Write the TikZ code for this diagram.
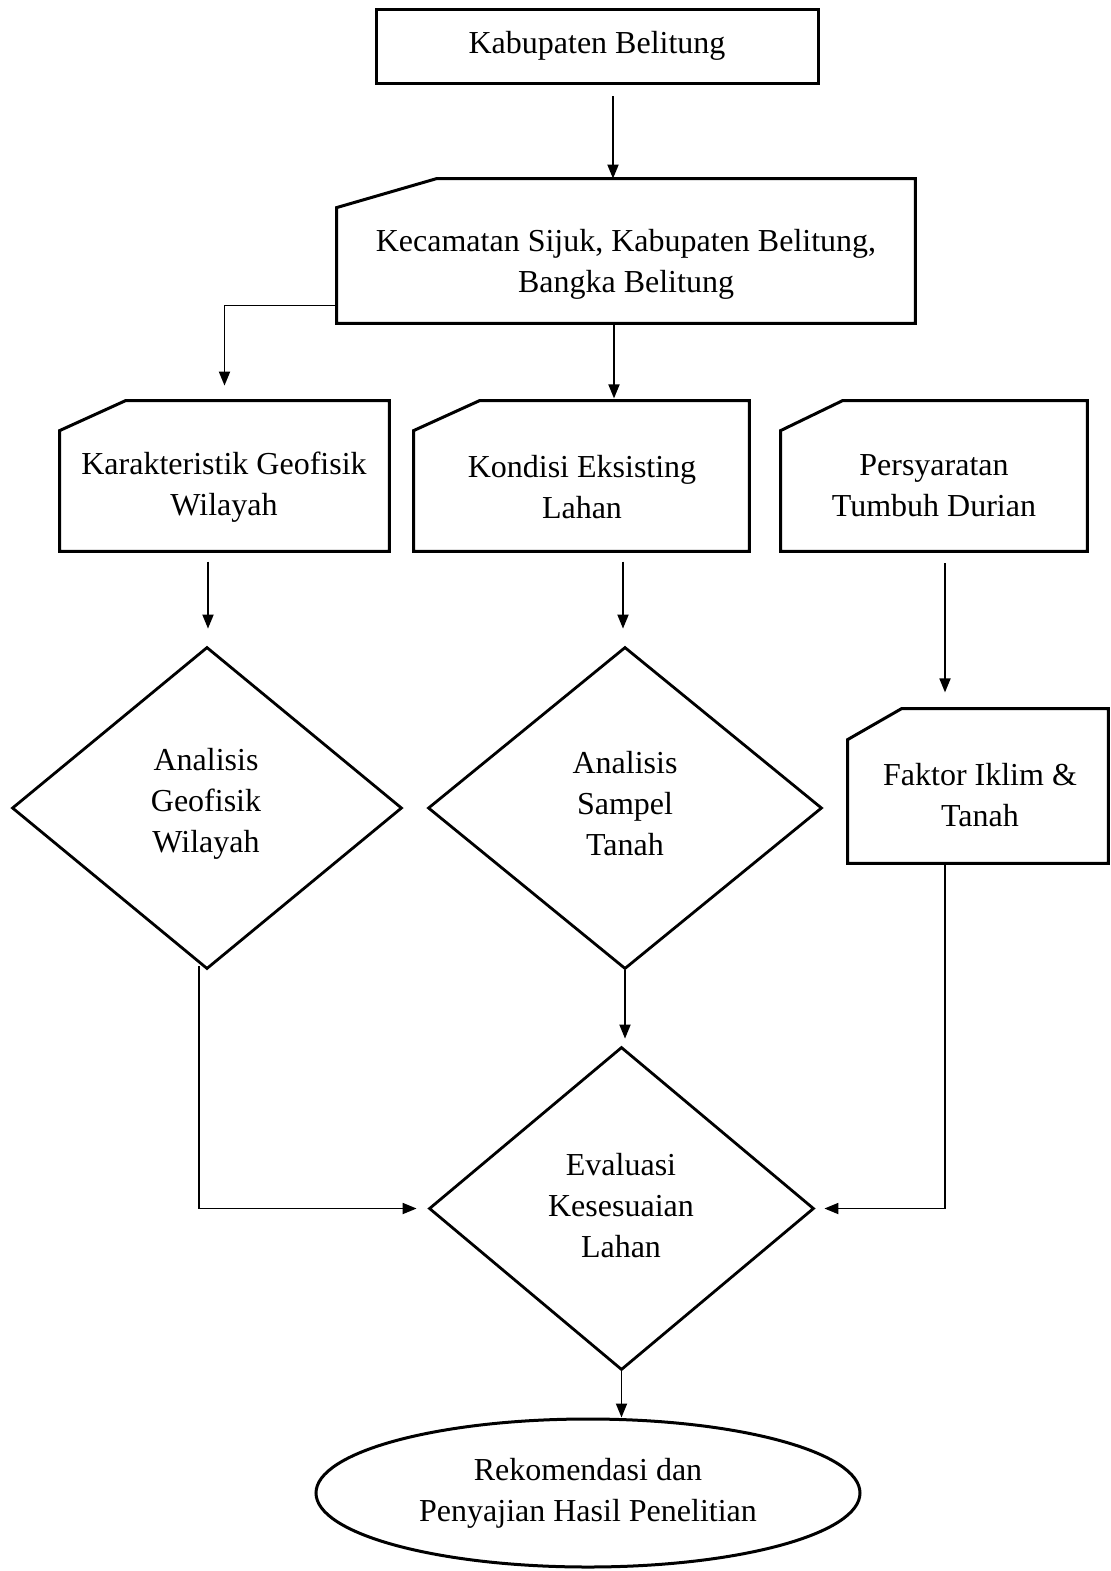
\documentclass[tikz,border=0pt]{standalone}
\usepackage{fontspec}
\setmainfont{Liberation Serif}
\usetikzlibrary{arrows.meta,calc,shapes.geometric}

\begin{document}
\begin{tikzpicture}[x=0.5pt, y=-0.5pt, >={Triangle[length=7pt,width=5.5pt]},
  every node/.style={font=\fontsize{16}{20.5}\selectfont, align=center, inner sep=0pt},
  frame/.style={rectangle},
  outl/.style={line width=1.5pt},
  dec/.style={diamond, draw, line width=1.4pt},
  arr/.style={->, line width=0.9pt}]
\useasboundingbox (0,0) rectangle (1111,1571);

% boxes
\node[frame, draw, outl, minimum width=221pt, minimum height=37pt] (kab) at (597,46) {Kabupaten Belitung};
\node[frame, minimum width=289pt, minimum height=72pt] (kec) at (626,251) {};
\node (kect) at (626,264) {Kecamatan Sijuk, Kabupaten Belitung,\\Bangka Belitung};
\node[frame, minimum width=164.5pt, minimum height=75pt] (kar) at (224.5,476) {};
\node (kart) at (224,487) {Karakteristik Geofisik\\Wilayah};
\node[frame, minimum width=167.5pt, minimum height=75pt] (kon) at (581.5,476) {};
\node (kont) at (582,487) {Kondisi Eksisting\\Lahan};
\node[frame, minimum width=153pt, minimum height=75pt] (per) at (934,476) {};
\node (pert) at (934,486) {Persyaratan\\Tumbuh Durian};
\node[frame, minimum width=130pt, minimum height=77pt] (fak) at (978,786) {};
\node (fakt) at (980,795) {Faktor Iklim \&\\Tanah};

% slanted top outlines
\foreach \n/\dy/\dx in {kec/29/100, kar/30/66, kon/30/66, per/30/62, fak/31/54}
  \draw[outl] (\n.south west) -- ($(\n.north west)+(0,\dy)$) -- ($(\n.north west)+(\dx,0)$)
    -- (\n.north east) -- (\n.south east) -- cycle;

% decisions
\node[dec, minimum width=195pt, minimum height=161pt] (dia1) at (207,808) {};
\node (dia1t) at (206,804) {Analisis\\Geofisik\\Wilayah};
\node[dec, minimum width=197pt, minimum height=161pt] (dia2) at (625,808) {};
\node (dia2t) at (625,804) {Analisis\\Sampel\\Tanah};
\node[dec, minimum width=192.5pt, minimum height=161.5pt] (eva) at (621.5,1208.5) {};
\node (evat) at (621,1206) {Evaluasi\\Kesesuaian\\Lahan};

% result
\node[ellipse, draw, outl, minimum width=272pt, minimum height=74pt] (ell) at (588,1493) {Rekomendasi dan\\Penyajian Hasil Penelitian};

% connectors
\coordinate (a1) at (613,96);
\draw[arr] (a1) -- (a1 |- kec.north);
\draw[arr] ([yshift=9pt]kec.south west) -| ([yshift=7.5pt]kar.north);
\draw[arr] ([xshift=-6pt]kec.south) -- ++(0,75);
\draw[arr] (dia1.north) ++(1,-84) -- ++(0,67);
\draw[arr] (dia2.north) ++(-2,-84) -- ++(0,67);
\draw[arr] (per.south) ++(11,12) -- ++(0,129);
\draw[arr] (dia1.south) ++(-8,-4) |- ([xshift=-5.5pt]eva.west);
\draw[arr, shorten >=3.5pt] (dia2.south) -- (dia2.south |- eva.north);
\draw[arr] (fak.south) ++(-33,0) |- ([xshift=4.5pt]eva.east);
\draw[arr] (eva.south) -- (eva.south |- ell.north);
\end{tikzpicture}
\end{document}
